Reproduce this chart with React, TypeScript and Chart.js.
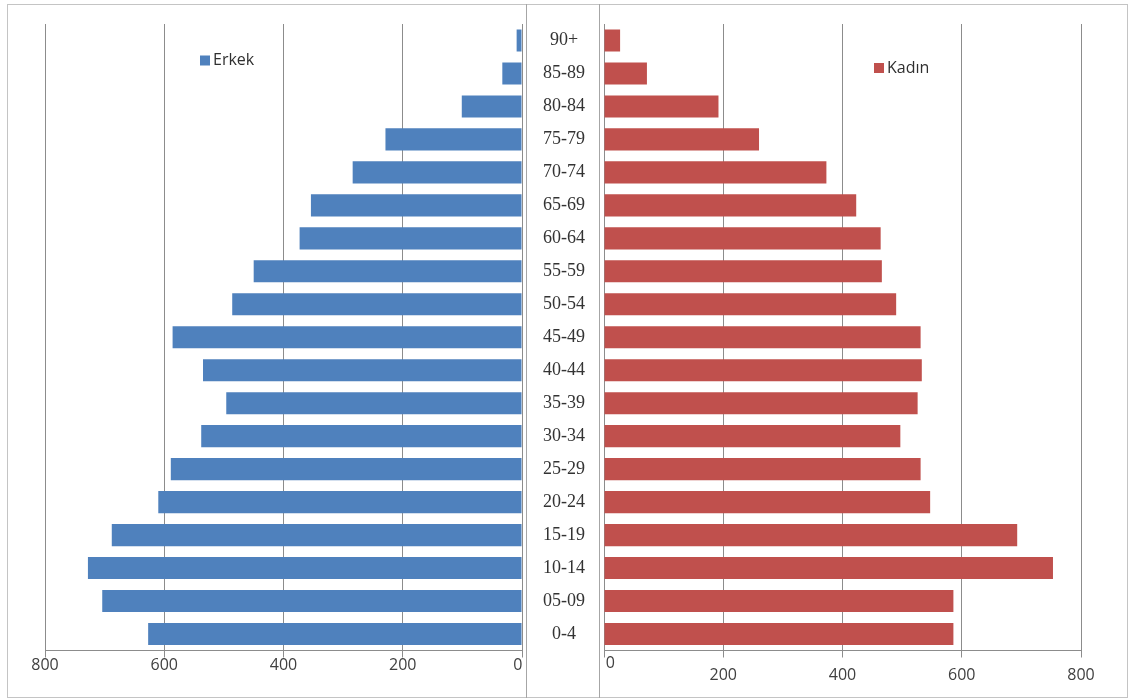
import React, { useEffect, useRef } from 'react';
import { Chart, registerables } from 'chart.js';

Chart.register(...registerables);

// Age groups, listed top (oldest) to bottom (youngest)
const ageGroups = [
  '90+', '85-89', '80-84', '75-79', '70-74', '65-69', '60-64', '55-59', '50-54',
  '45-49', '40-44', '35-39', '30-34', '25-29', '20-24', '15-19', '10-14', '05-09', '0-4',
];

// Male population per age group
const maleValues = [9, 33, 101, 229, 284, 354, 373, 450, 486, 586, 535, 496, 538, 589, 610, 688, 728, 704, 627];

// Female population per age group
const femaleValues = [27, 72, 192, 260, 373, 423, 464, 466, 490, 531, 533, 526, 497, 531, 547, 693, 753, 586, 586];

const seriesNames = ['Erkek', 'Kadın'];
const axisMax = 800;
const axisStep = 200;

const BLUE = '#4F81BD';
const RED = '#C0504D';
const GRID = '#8c8c8c';
const TICK_COLOR = '#404040';
const SANS = '"Open Sans", "Liberation Sans", sans-serif';
const SERIF = '"Liberation Serif", "Times New Roman", serif';

// Small square-and-label legend drawn inside the plot
function boxLegend(x: number, y: number) {
  return {
    id: 'boxLegend',
    afterDraw(chart: any) {
      const ds = chart.data.datasets[0];
      const ctx = chart.ctx;
      ctx.save();
      ctx.fillStyle = ds.backgroundColor;
      ctx.fillRect(x, y - 5, 10, 10);
      ctx.font = `16px ${SANS}`;
      ctx.fillStyle = '#303030';
      ctx.textAlign = 'left';
      ctx.textBaseline = 'middle';
      ctx.fillText(ds.label, x + 13, y);
      ctx.restore();
    },
  };
}

function fixAxisHeight(s: any) {
  s.height = 45.5;
  s.paddingLeft = 0;
  s.paddingRight = 0;
}

function fixCategoryWidth(width: number) {
  return (s: any) => {
    s.width = width;
    s.paddingTop = 0;
    s.paddingBottom = 0;
  };
}

export default function App() {
  const leftRef = useRef<HTMLCanvasElement>(null);
  const rightRef = useRef<HTMLCanvasElement>(null);

  useEffect(() => {
    const left = new Chart(leftRef.current!, {
      type: 'bar',
      data: {
        labels: ageGroups,
        datasets: [
          {
            label: seriesNames[0],
            data: maleValues,
            backgroundColor: BLUE,
            barPercentage: 0.67,
            categoryPercentage: 1,
          },
        ],
      },
      options: {
        indexAxis: 'y',
        responsive: false,
        animation: false,
        layout: { padding: { left: 38, right: 4, top: 20, bottom: 0 } },
        plugins: { legend: { display: false }, tooltip: { enabled: false } },
        scales: {
          x: {
            reverse: true,
            min: 0,
            max: axisMax,
            position: 'bottom',
            ticks: {
              stepSize: axisStep,
              font: { family: SANS, size: 16, lineHeight: 1 },
              color: TICK_COLOR,
              padding: 0,
              maxRotation: 0,
              autoSkip: false,
              callback: (v: any) => (v === 0 ? '0  ' : String(v)),
            },
            grid: { color: GRID, tickColor: GRID, tickLength: 7, drawTicks: true },
            border: { color: GRID },
            afterFit: fixAxisHeight,
          },
          y: {
            position: 'right',
            ticks: { display: false },
            grid: { display: false, drawTicks: false },
            border: { color: GRID },
            afterFit: fixCategoryWidth(0),
          },
        },
      },
      plugins: [boxLegend(193, 56.5)],
    } as any);

    const right = new Chart(rightRef.current!, {
      type: 'bar',
      data: {
        labels: ageGroups,
        datasets: [
          {
            label: seriesNames[1],
            data: femaleValues,
            backgroundColor: RED,
            barPercentage: 0.67,
            categoryPercentage: 1,
          },
        ],
      },
      options: {
        indexAxis: 'y',
        responsive: false,
        animation: false,
        layout: { padding: { left: 0, right: 46, top: 20, bottom: 0 } },
        plugins: { legend: { display: false }, tooltip: { enabled: false } },
        scales: {
          x: {
            min: 0,
            max: axisMax,
            position: 'bottom',
            ticks: {
              stepSize: axisStep,
              font: { family: SANS, size: 16, lineHeight: 0.75 },
              color: TICK_COLOR,
              padding: 0,
              maxRotation: 0,
              autoSkip: false,
              callback: (v: any) => (v === 0 ? '   0' : ['', String(v)]),
            },
            grid: { color: GRID, tickColor: GRID, tickLength: 7, drawTicks: true },
            border: { color: GRID },
            afterFit: fixAxisHeight,
          },
          y: {
            position: 'left',
            ticks: {
              crossAlign: 'center',
              padding: 19,
              autoSkip: false,
              color: '#333333',
              font: { family: SERIF, size: 18 },
            },
            grid: { display: false, drawTicks: false },
            border: { color: GRID },
            afterFit: fixCategoryWidth(78),
          },
        },
      },
      plugins: [boxLegend(348, 64)],
    } as any);

    return () => {
      left.destroy();
      right.destroy();
    };
  }, []);

  return (
    <div
      style={{
        position: 'absolute',
        left: 0,
        top: 0,
        width: 1129,
        height: 700,
        background: '#ffffff',
        overflow: 'hidden',
      }}
    >
      <canvas
        ref={leftRef}
        width={519}
        height={692}
        style={{ position: 'absolute', left: 7, top: 4, width: 519, height: 692, display: 'block' }}
      />
      <canvas
        ref={rightRef}
        width={601}
        height={692}
        style={{ position: 'absolute', left: 526, top: 4, width: 601, height: 692, display: 'block' }}
      />
      <div
        style={{
          position: 'absolute',
          left: 7,
          top: 4,
          width: 1121,
          height: 694,
          border: '1px solid #c4c4c4',
          boxSizing: 'border-box',
          pointerEvents: 'none',
        }}
      />
      <div style={{ position: 'absolute', left: 526, top: 4, width: 1, height: 694, background: '#a6a6a6' }} />
      <div style={{ position: 'absolute', left: 599, top: 4, width: 1, height: 694, background: '#a6a6a6' }} />
    </div>
  );
}
